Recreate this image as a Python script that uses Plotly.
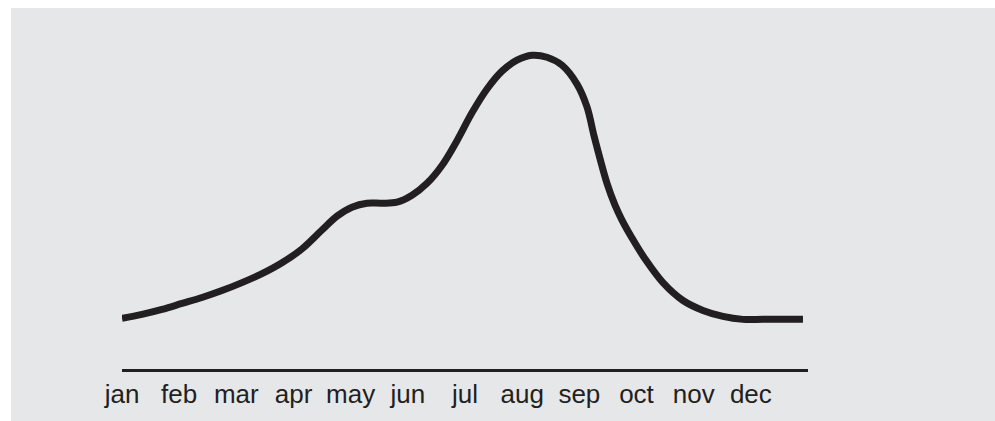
import plotly.graph_objects as go

# Month labels on the x axis
months = ["jan", "feb", "mar", "apr", "may", "jun",
          "jul", "aug", "sep", "oct", "nov", "dec"]
month_idx = list(range(12))

# Curve samples: position in months (0 = jan) and relative value (peak = 100)
curve_x = [0, 0.350, 0.700, 1.050, 1.399, 1.749, 2.099, 2.449, 2.799, 3.149,
           3.498, 3.761, 4.023, 4.285, 4.548, 4.810, 5.073, 5.335, 5.597, 5.860,
           6.122, 6.385, 6.647, 6.909, 7.172, 7.434, 7.696, 7.959, 8.134, 8.256,
           8.361, 8.484, 8.624, 8.746, 8.921, 9.148, 9.463, 9.813, 10.163,
           10.513, 10.862, 11.212, 11.562, 11.912]
curve_y = [16.14, 17.41, 18.99, 20.89, 22.78, 25.00, 27.53, 30.38, 33.86, 38.29,
           44.30, 48.73, 51.58, 52.85, 52.85, 53.16, 55.38, 59.18, 64.87, 72.78,
           81.65, 89.24, 94.94, 98.42, 100.0, 99.37, 96.84, 90.82, 83.54, 74.37,
           67.09, 59.18, 52.22, 47.47, 41.77, 35.13, 27.53, 21.84, 18.67,
           16.77, 15.82, 15.82, 15.82, 15.82]

INK = "#231f20"
BG = "#e6e7e8"

W, H = 995, 421
L, R, T, B = 122, 187, 20, 49.5
pw = W - L - R
ph = H - T - B
y_per_px = 111.4 / 352

fig = go.Figure()
fig.add_trace(go.Scatter(
    x=curve_x, y=curve_y, mode="lines",
    line=dict(color=INK, width=7, shape="spline", smoothing=1.0),
    hoverinfo="skip", showlegend=False,
))

# grey panel behind the chart (white strip only at top and left)
fig.add_shape(type="rect", xref="paper", yref="paper", layer="below",
              x0=(11 - L) / pw, x1=(W + 10 - L) / pw,
              y0=-(B + 10) / ph, y1=(H - B - 8) / ph,
              fillcolor=BG, line=dict(width=0))

fig.update_layout(
    width=W, height=H,
    margin=dict(l=L, r=R, t=T, b=B, pad=0),
    paper_bgcolor="white", plot_bgcolor="rgba(0,0,0,0)",
    font=dict(family="Liberation Sans, Arial, sans-serif", color=INK),
    xaxis=dict(range=[0, 12], showgrid=False, zeroline=False,
               showline=True, linecolor=INK, linewidth=3,
               tickmode="array", tickvals=month_idx, ticktext=months,
               ticks="", tickfont=dict(size=26, color=INK),
               fixedrange=True),
    yaxis=dict(range=[0, ph * y_per_px], visible=False, fixedrange=True),
)

fig.write_html(
    "out.html",
    config={"displayModeBar": False},
    post_script="document.body.style.margin='0';document.body.style.overflow='hidden';",
)
